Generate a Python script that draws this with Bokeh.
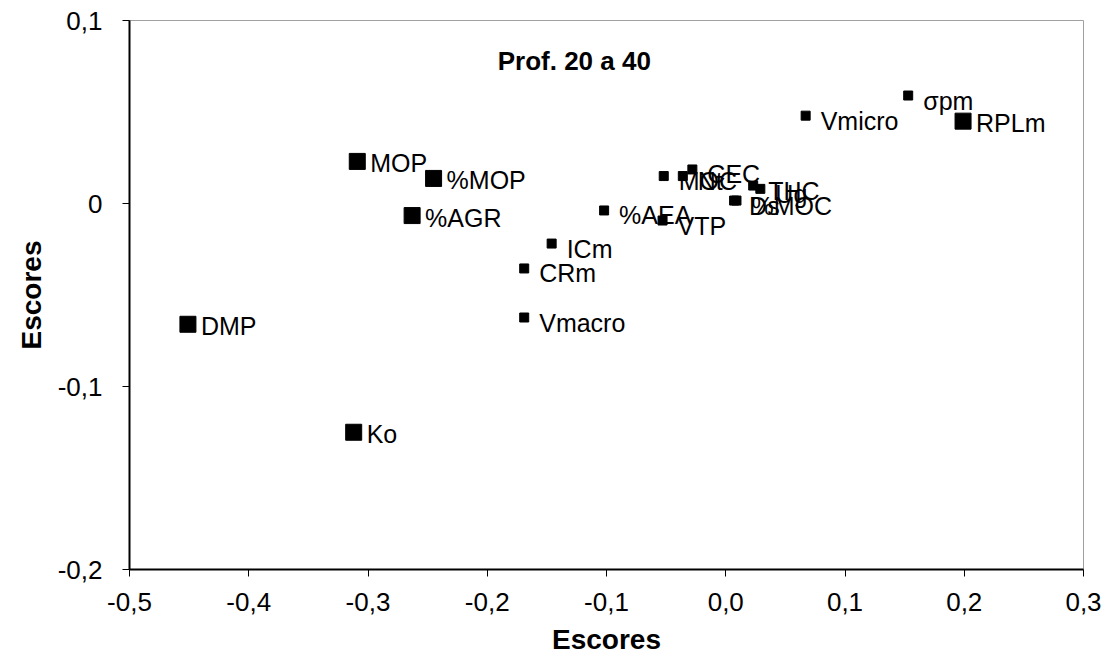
from bokeh.plotting import figure
from bokeh.models import ColumnDataSource, Range1d, FixedTicker
from bokeh.embed import file_html
from bokeh.resources import INLINE
from bokeh.core.properties import value

# Big markers
big_labels = ["MOP", "%MOP", "%AGR", "DMP", "Ko", "RPLm"]
big_x = [-0.309, -0.245, -0.263, -0.451, -0.312, 0.199]
big_y = [0.023, 0.0137, -0.0066, -0.066, -0.125, 0.045]

# Small markers
small_labels = ["σpm", "Vmicro", "MOC", "Nt", "CEC", "THC", "Ug", "Ds", "%MOC",
                "%AEA", "VTP", "ICm", "CRm", "Vmacro"]
small_x = [0.153, 0.067, -0.052, -0.036, -0.028, 0.023, 0.029, 0.007, 0.009,
           -0.102, -0.053, -0.146, -0.169, -0.169]
small_y = [0.059, 0.048, 0.015, 0.015, 0.0186, 0.0098, 0.008, 0.0016, 0.0016,
           -0.0038, -0.0093, -0.0219, -0.0355, -0.0623]

x_ticks = [-0.5, -0.4, -0.3, -0.2, -0.1, 0.0, 0.1, 0.2, 0.3]
x_tick_labels = ["-0,5", "-0,4", "-0,3", "-0,2", "-0,1", "0,0", "0,1", "0,2", "0,3"]
y_ticks = [-0.2, -0.1, 0.0, 0.1]
y_tick_labels = ["-0,2", "-0,1", "0", "0,1"]

FONT = "Liberation Sans"

p = figure(width=1105, height=668, output_backend="svg", toolbar_location=None,
           x_range=Range1d(-0.5, 0.3), y_range=Range1d(-0.2, 0.1))
p.min_border_left = 129
p.min_border_right = 22
p.min_border_top = 20
p.min_border_bottom = 99
p.background_fill_color = "white"
p.border_fill_color = "white"
p.outline_line_color = "#a0a0a0"
p.grid.visible = False

p.xaxis.ticker = FixedTicker(ticks=x_ticks)
p.yaxis.ticker = FixedTicker(ticks=y_ticks)
p.xaxis.major_label_overrides = {t: l for t, l in zip(x_ticks, x_tick_labels)}
p.yaxis.major_label_overrides = {t: l for t, l in zip(y_ticks, y_tick_labels)}
for ax in (p.xaxis, p.yaxis):
    ax.axis_line_color = "black"
    ax.axis_line_width = 2
    ax.major_tick_line_color = "black"
    ax.major_tick_line_width = 1
    ax.major_tick_in = 0
    ax.major_tick_out = 7
    ax.minor_tick_line_color = None
    ax.major_label_text_font = FONT
    ax.major_label_text_font_size = "26px"
    ax.major_label_text_color = "black"
    ax.axis_label_text_font = FONT
    ax.axis_label_text_font_size = "28px"
    ax.axis_label_text_font_style = "bold"
    ax.axis_label_text_color = "black"
p.xaxis.major_label_standoff = 16
p.yaxis.major_label_standoff = 20
p.xaxis.axis_label = "Escores"
p.yaxis.axis_label = "Escores"
p.xaxis.axis_label_standoff = 10
p.yaxis.axis_label_standoff = 8

src_big = ColumnDataSource(dict(x=big_x, y=big_y, t=big_labels))
src_small = ColumnDataSource(dict(x=small_x, y=small_y, t=small_labels))

p.scatter("x", "y", source=src_big, marker="square", size=16,
          fill_color="black", line_color="black")
p.scatter("x", "y", source=src_small, marker="square", size=9,
          fill_color="black", line_color="black")

p.text("x", "y", text="t", source=src_big, x_offset=13, y_offset=2,
       text_font=value(FONT), text_font_size="25px", text_baseline="middle",
       text_color="black")
p.text("x", "y", text="t", source=src_small, x_offset=15, y_offset=5,
       text_font=value(FONT), text_font_size="25px", text_baseline="middle",
       text_color="black")

p.text(x=[-0.127], y=[0.078], text=["Prof. 20 a 40"], text_font=value(FONT),
       text_font_size="26px", text_font_style="bold", text_align="center",
       text_baseline="middle", text_color="black")

open("out.html", "w").write(file_html(p, INLINE))
